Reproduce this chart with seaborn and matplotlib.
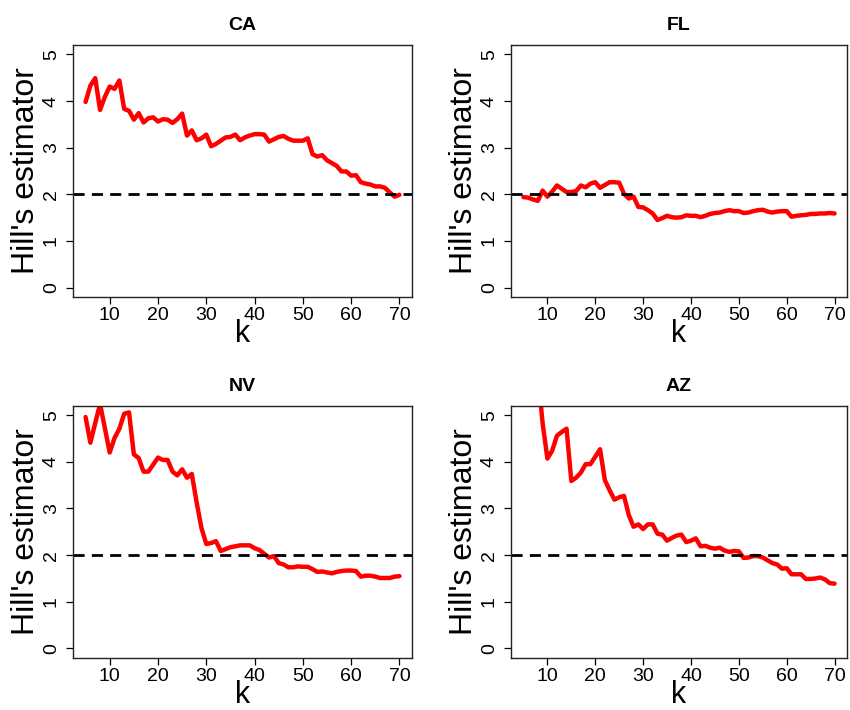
import numpy as np
import pandas as pd
import matplotlib
matplotlib.use("Agg")
import matplotlib.pyplot as plt
import seaborn as sns

# Hill's estimator by k
k = np.arange(5, 71)

ca = [3.98, 4.33, 4.49, 3.81, 4.09, 4.31, 4.26, 4.44, 3.83, 3.79,
      3.60, 3.74, 3.54, 3.63, 3.65, 3.56, 3.61, 3.60, 3.53, 3.61,
      3.73, 3.26, 3.37, 3.16, 3.20, 3.28, 3.03, 3.08, 3.15, 3.22,
      3.23, 3.28, 3.16, 3.22, 3.26, 3.29, 3.29, 3.28, 3.13, 3.18,
      3.23, 3.25, 3.19, 3.15, 3.15, 3.15, 3.20, 2.86, 2.81, 2.84,
      2.73, 2.67, 2.61, 2.49, 2.49, 2.40, 2.41, 2.26, 2.23, 2.21,
      2.17, 2.17, 2.14, 2.04, 1.95, 1.99]

fl = [1.94, 1.93, 1.89, 1.86, 2.08, 1.95, 2.06, 2.19, 2.12, 2.05,
      2.05, 2.07, 2.19, 2.15, 2.23, 2.26, 2.14, 2.20, 2.26, 2.26,
      2.25, 2.01, 1.91, 1.95, 1.73, 1.72, 1.66, 1.59, 1.45, 1.49,
      1.54, 1.51, 1.50, 1.51, 1.55, 1.54, 1.54, 1.51, 1.54, 1.58,
      1.60, 1.61, 1.64, 1.66, 1.64, 1.64, 1.60, 1.61, 1.64, 1.66,
      1.67, 1.63, 1.61, 1.63, 1.64, 1.64, 1.52, 1.54, 1.55, 1.56,
      1.58, 1.58, 1.59, 1.59, 1.60, 1.59]

nv = [4.96, 4.41, 4.83, 5.24, 4.72, 4.20, 4.51, 4.71, 5.03, 5.06,
      4.16, 4.08, 3.79, 3.79, 3.94, 4.09, 4.04, 4.04, 3.79, 3.71,
      3.84, 3.66, 3.74, 3.13, 2.58, 2.24, 2.26, 2.30, 2.09, 2.13,
      2.17, 2.19, 2.21, 2.21, 2.21, 2.15, 2.11, 2.03, 1.95, 1.98,
      1.83, 1.80, 1.74, 1.74, 1.76, 1.75, 1.75, 1.70, 1.64, 1.65,
      1.63, 1.61, 1.64, 1.66, 1.67, 1.67, 1.66, 1.54, 1.56, 1.56,
      1.54, 1.51, 1.51, 1.51, 1.54, 1.55]

az = [7.00, 6.60, 6.30, 5.90, 4.83, 4.07, 4.24, 4.56, 4.64, 4.71,
      3.59, 3.66, 3.77, 3.95, 3.95, 4.11, 4.27, 3.61, 3.39, 3.19,
      3.24, 3.27, 2.86, 2.61, 2.66, 2.56, 2.66, 2.66, 2.46, 2.44,
      2.31, 2.37, 2.42, 2.44, 2.28, 2.31, 2.36, 2.19, 2.20, 2.16,
      2.14, 2.16, 2.10, 2.07, 2.09, 2.08, 1.94, 1.95, 1.98, 1.98,
      1.95, 1.89, 1.83, 1.80, 1.71, 1.72, 1.59, 1.59, 1.59, 1.49,
      1.49, 1.50, 1.52, 1.48, 1.40, 1.39]

states = ["CA", "FL", "NV", "AZ"]
series = [ca, fl, nv, az]
ref_level = 2

sns.set_style("ticks")
plt.rcParams["font.family"] = ["Liberation Sans", "DejaVu Sans"]
plt.rcParams["text.color"] = "black"
plt.rcParams["axes.labelcolor"] = "black"

fig = plt.figure(figsize=(8.5, 7.1), dpi=100)

# panel boxes in figure fractions (left, bottom, width, height)
boxes = [
    (0.0859, 0.5817, 0.3988, 0.3549),
    (0.6012, 0.5817, 0.3953, 0.3549),
    (0.0859, 0.0735, 0.3988, 0.3549),
    (0.6012, 0.0735, 0.3953, 0.3549),
]

for state, vals, box in zip(states, series, boxes):
    ax = fig.add_axes(box)
    df = pd.DataFrame({"k": k, "hill": vals})
    sns.lineplot(data=df, x="k", y="hill", ax=ax, color="#ff0000", lw=3.2)
    ax.axhline(ref_level, color="black", lw=2, dashes=(4, 2.6))
    ax.set_xlim(2.4, 72.6)
    ax.set_ylim(-0.2, 5.2)
    ax.set_xticks([10, 20, 30, 40, 50, 60, 70])
    ax.set_yticks([0, 1, 2, 3, 4, 5])
    ax.tick_params(axis="both", direction="out", length=5, width=0.9,
                   labelsize=14, colors="black")
    ax.tick_params(axis="x", pad=2)
    ax.tick_params(axis="y", pad=4.5, labelrotation=90)
    for lab in ax.get_yticklabels():
        lab.set_va("center")
    for sp in ax.spines.values():
        sp.set_visible(True)
        sp.set_linewidth(1.0)
        sp.set_color("#222222")
    ax.set_title(state, fontsize=14, fontweight="bold", pad=11, color="black")
    ax.set_xlabel("k", fontsize=22)
    ax.set_ylabel("Hill's estimator", fontsize=23)
    ax.xaxis.set_label_coords(0.5, -0.088)
    ax.yaxis.set_label_coords(-0.095, 0.5)

fig.savefig("out.png", dpi=100)
